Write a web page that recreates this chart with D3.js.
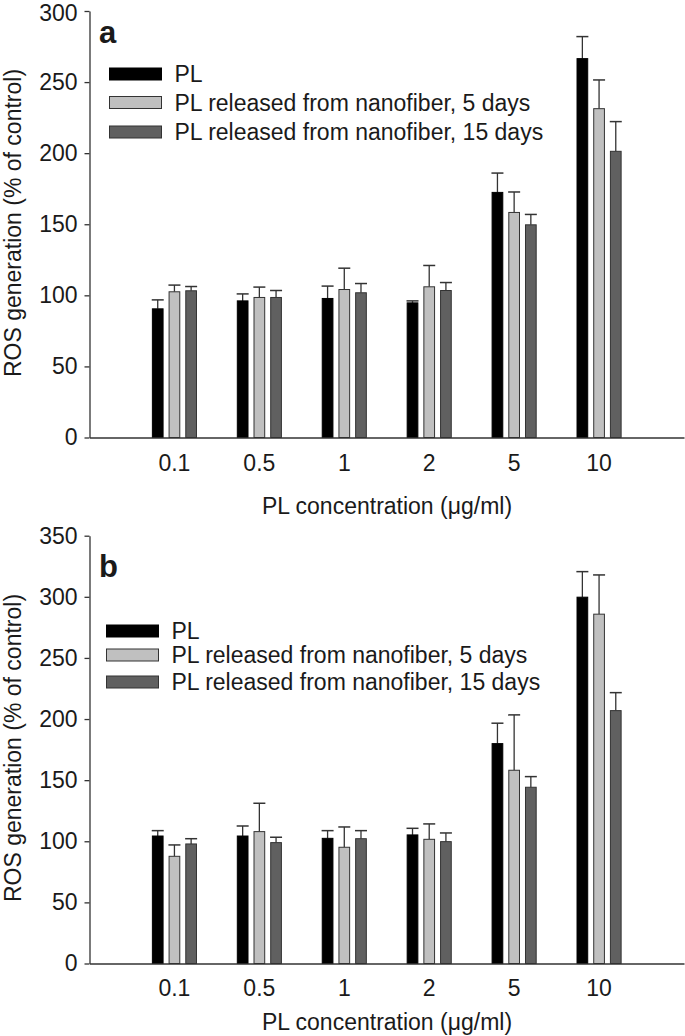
<!DOCTYPE html>
<html><head><meta charset="utf-8">
<script src="https://cdn.jsdelivr.net/npm/d3@7"></script>
<style>
body{margin:0;background:#fff;}
svg{display:block;}
text{font-family:"Liberation Sans",Arial,sans-serif;fill:#1a1a1a;}
</style></head>
<body>
<svg id="chart" width="685" height="1036"></svg>
<script>
// ---- data ----
const categories = ["0.1","0.5","1","2","5","10"];
const seriesNames = ["PL","PL released from nanofiber, 5 days","PL released from nanofiber, 15 days"];
const seriesColors = ["#000000","#c0c0c0","#606060"];

// Panel a
const aPL      = [90.5, 96.1, 97.8, 94.7, 172.4, 266.5];
const aPL_err  = [6.3, 4.9, 8.7, 1.4, 13.6, 15.5];
const a5d      = [102.5, 98.5, 104.1, 106.0, 158.3, 231.3];
const a5d_err  = [4.7, 7.3, 15.0, 15.0, 14.4, 20.2];
const a15d     = [103.2, 98.5, 101.8, 103.4, 149.6, 201.3];
const a15d_err = [3.0, 4.9, 6.5, 5.6, 7.3, 20.9];
const aTicks   = [0,50,100,150,200,250,300];

// Panel b
const bPL      = [104.3, 104.3, 102.4, 105.2, 179.9, 299.7];
const bPL_err  = [4.4, 8.2, 6.3, 5.4, 16.7, 20.9];
const b5d      = [87.7, 107.9, 95.1, 101.6, 158.1, 285.8];
const b5d_err  = [9.3, 23.2, 16.6, 12.6, 45.3, 32.1];
const b15d     = [97.8, 98.9, 102.1, 99.7, 144.2, 206.9];
const b15d_err = [4.3, 4.4, 6.6, 7.1, 8.7, 14.7];
const bTicks   = [0,50,100,150,200,250,300,350];

const xTitle = "PL concentration (\u03bcg/ml)";
const yTitle = "ROS generation (% of control)";

// ---- layout ----
const svg = d3.select("#chart");
const FS = 23;

function panel(cfg){
  const g = svg.append("g");
  const x0 = 89.5, x1 = 684;
  const y = d3.scaleLinear().domain([0, cfg.ymax]).range([cfg.yBottom, cfg.yTop]);
  const step = (x1 - x0) / 7;
  const x = d3.scalePoint().domain(categories).range([x0 + step, x0 + 6*step]);
  const xs = d3.scalePoint().domain(seriesNames).range([-16.7, 16.7]);
  const bw = 10.7;

  const values = [cfg.pl, cfg.d5, cfg.d15];
  const errs = [cfg.plErr, cfg.d5Err, cfg.d15Err];
  const rows = [];
  seriesNames.forEach((s, si) => {
    categories.forEach((c, ci) => {
      rows.push({s, si, c, v: values[si][ci], e: errs[si][ci]});
    });
  });

  // error bars (upper only)
  const eg = g.append("g");
  rows.forEach(d => {
    const cx = x(d.c) + xs(d.s);
    eg.append("line").attr("x1", cx).attr("x2", cx)
      .attr("y1", y(d.v)).attr("y2", y(d.v + d.e))
      .attr("stroke", "#333").attr("stroke-width", 1.3);
    eg.append("line").attr("x1", cx - 6).attr("x2", cx + 6)
      .attr("y1", y(d.v + d.e)).attr("y2", y(d.v + d.e))
      .attr("stroke", "#333").attr("stroke-width", 1.5);
  });

  // bars
  g.append("g").selectAll("rect").data(rows).join("rect")
    .attr("x", d => x(d.c) + xs(d.s) - bw/2)
    .attr("y", d => y(d.v))
    .attr("width", bw)
    .attr("height", d => y(0) - y(d.v))
    .attr("fill", d => seriesColors[d.si])
    .attr("stroke", d => d.si === 0 ? "#000" : "#333")
    .attr("stroke-width", 1);

  // y axis
  const ya = g.append("g").attr("transform", `translate(${x0},0)`)
    .call(d3.axisLeft(y).tickValues(cfg.ticks).tickSize(5).tickPadding(7).tickSizeOuter(0));
  ya.select(".domain").attr("stroke", "#333").attr("stroke-width", 1.3);
  ya.selectAll(".tick line").attr("stroke", "#333").attr("stroke-width", 1.3);
  ya.selectAll(".tick text").style("font-size", FS + "px").style("font-family", '"Liberation Sans",Arial,sans-serif').attr("fill", "#1a1a1a")
    .attr("y", d => (y(d) < 20 ? 2.5 : 0));

  // x axis line
  const xa = g.append("g").attr("transform", `translate(0,${cfg.yBottom})`)
    .call(d3.axisBottom(d3.scaleLinear().domain([0,7]).range([x0, x1])).tickValues([]).tickSizeOuter(0));
  xa.select(".domain").attr("stroke", "#333").attr("stroke-width", 1.3);
  // category labels
  g.selectAll(".cat").data(categories).join("text")
    .attr("class", "cat")
    .attr("x", d => x(d)).attr("y", cfg.catY)
    .attr("text-anchor", "middle").attr("dominant-baseline", "central")
    .style("font-size", FS + "px").text(d => d);

  // x title
  g.append("text").attr("x", 387).attr("y", cfg.xTitleY)
    .attr("text-anchor", "middle").attr("dominant-baseline", "central")
    .style("font-size", FS + "px").text(xTitle);

  // y title
  g.append("text")
    .attr("transform", `translate(13,${cfg.yTitleY}) rotate(-90)`)
    .attr("text-anchor", "middle").attr("dominant-baseline", "central")
    .style("font-size", FS + "px").text(yTitle);

  // panel letter
  g.append("text").attr("x", 99).attr("y", cfg.letterY)
    .style("font-size", "31px").style("font-weight", "bold").attr("fill", "#000").text(cfg.letter);

  // legend
  cfg.legendY.forEach((ly, i) => {
    g.append("rect").attr("x", cfg.legendX).attr("y", ly - 6).attr("width", 52).attr("height", 12)
      .attr("fill", seriesColors[i]).attr("stroke", i === 0 ? "#000" : "#333").attr("stroke-width", 1);
    g.append("text").attr("x", cfg.legendX + 65).attr("y", ly)
      .attr("dominant-baseline", "central").style("font-size", FS + "px").text(seriesNames[i]);
  });
}

panel({ymax: 300, yBottom: 437.5, yTop: 11, ticks: aTicks,
  pl: aPL, plErr: aPL_err, d5: a5d, d5Err: a5d_err, d15: a15d, d15Err: a15d_err,
  catY: 463, xTitleY: 506, yTitleY: 223, letter: "a", letterY: 43,
  legendX: 109.5, legendY: [74, 102.5, 132]});

panel({ymax: 350, yBottom: 963.5, yTop: 535.7, ticks: bTicks,
  pl: bPL, plErr: bPL_err, d5: b5d, d5Err: b5d_err, d15: b15d, d15Err: b15d_err,
  catY: 988, xTitleY: 1022, yTitleY: 748, letter: "b", letterY: 577,
  legendX: 106.5, legendY: [631, 655, 682]});
</script>
</body></html>
